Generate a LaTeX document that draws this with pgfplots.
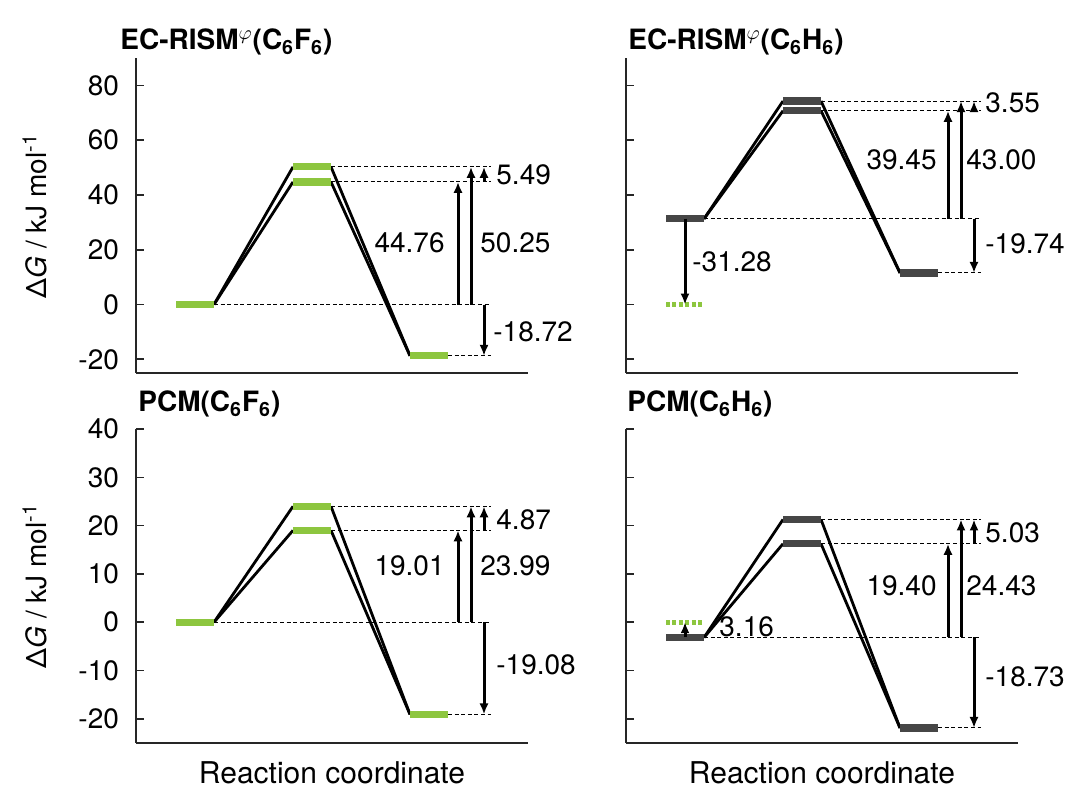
\documentclass[border=0pt]{standalone}
\usepackage{pgfplots}
\pgfplotsset{compat=1.18}
\usepackage{fontspec}
\setmainfont{TeX Gyre Heros}
\usetikzlibrary{arrows.meta}

\definecolor{lvlgreen}{RGB}{141,198,63}
\definecolor{lvlgray}{RGB}{70,70,70}

\pgfplotsset{
  ediag/.style={
    scale only axis, width=196pt, anchor=south west,
    xmin=0, xmax=392, ymin=-25,
    axis lines*=left,
    axis line style={line width=0.8pt, black!85},
    xtick=\empty, tick align=inside, major tick length=4pt,
    tick style={line width=0.8pt, black!85},
    clip=false,
    /pgf/number format/assume math mode=true,
    tick label style={font=\fontsize{14}{16}\selectfont},
    yticklabel style={xshift=-5pt},
    xlabel style={font=\fontsize{15}{17}\selectfont, yshift=-6pt},
  },
  link/.style={black, line width=1.4pt},
  guide/.style={black, line width=0.5pt, dash pattern=on 2pt off 1.3pt},
  gap/.style={black, line width=1.5pt, -{Latex[length=5.5pt,width=4.6pt]}},
  lvg/.style={lvlgreen, line width=3.6pt},
  lvk/.style={lvlgray, line width=3.6pt},
  ref0/.style={lvlgreen, line width=2.5pt, dash pattern=on 2pt off 1.2pt},
}
\tikzset{lab/.style={font=\fontsize{14}{16}\selectfont, inner sep=0pt}}

\begin{document}
\begin{tikzpicture}
\useasboundingbox (0,0) rectangle (535.5pt,396pt);

% EC-RISM C6F6
\begin{axis}[ediag, at={(68pt,209.5pt)}, height=157.5pt, ymax=90, ytick={-20,0,...,80}]
  \addplot[link] coordinates {(78,0) (157,44.76)};
  \addplot[link] coordinates {(78,0) (157,50.25)};
  \addplot[link] coordinates {(195,44.76) (274,-18.72)};
  \addplot[link] coordinates {(195,50.25) (274,-18.72)};
  \addplot[guide] coordinates {(78,0) (355,0)};
  \addplot[guide] coordinates {(195,44.76) (355,44.76)};
  \addplot[guide] coordinates {(195,50.25) (355,50.25)};
  \addplot[guide] coordinates {(312,-18.72) (355,-18.72)};
  \addplot[lvg] coordinates {(40,0) (78,0)};
  \addplot[lvg] coordinates {(157,44.76) (195,44.76)};
  \addplot[lvg] coordinates {(157,50.25) (195,50.25)};
  \addplot[lvg] coordinates {(274,-18.72) (312,-18.72)};
  \addplot[gap] coordinates {(322,0) (322,44.76)};
  \addplot[gap] coordinates {(335,0) (335,50.25)};
  \addplot[gap] coordinates {(348,44.76) (348,50.25)};
  \addplot[gap] coordinates {(348,0) (348,-18.72)};
  \node[lab, anchor=east] at (axis cs:309,22.6) {44.76};
  \node[lab, anchor=west] at (axis cs:344,22.6) {50.25};
  \node[lab, anchor=west] at (axis cs:360,47.3) {5.49};
  \node[lab, anchor=west] at (axis cs:357,-9.9) {-18.72};
\end{axis}

% EC-RISM C6H6
\begin{axis}[ediag, at={(313pt,209.5pt)}, height=157.5pt, ymax=90, ytick={-20,0,...,80}, yticklabels=\empty]
  \addplot[link] coordinates {(78,31.28) (157,70.73)};
  \addplot[link] coordinates {(78,31.28) (157,74.28)};
  \addplot[link] coordinates {(195,70.73) (274,11.54)};
  \addplot[link] coordinates {(195,74.28) (274,11.54)};
  \addplot[guide] coordinates {(78,31.28) (355,31.28)};
  \addplot[guide] coordinates {(195,70.73) (355,70.73)};
  \addplot[guide] coordinates {(195,74.28) (355,74.28)};
  \addplot[guide] coordinates {(312,11.54) (355,11.54)};
  \addplot[ref0] coordinates {(40,0) (78,0)};
  \addplot[lvk] coordinates {(40,31.28) (78,31.28)};
  \addplot[lvk] coordinates {(157,70.73) (195,70.73)};
  \addplot[lvk] coordinates {(157,74.28) (195,74.28)};
  \addplot[lvk] coordinates {(274,11.54) (312,11.54)};
  \addplot[gap] coordinates {(59,31.28) (59,0)};
  \addplot[gap] coordinates {(322,31.28) (322,70.73)};
  \addplot[gap] coordinates {(335,31.28) (335,74.28)};
  \addplot[gap] coordinates {(348,70.73) (348,74.28)};
  \addplot[gap] coordinates {(348,31.28) (348,11.54)};
  \node[lab, anchor=west] at (axis cs:66,15.7) {-31.28};
  \node[lab, anchor=east] at (axis cs:311,53) {39.45};
  \node[lab, anchor=west] at (axis cs:340,53) {43.00};
  \node[lab, anchor=west] at (axis cs:359,73.5) {3.55};
  \node[lab, anchor=west] at (axis cs:359,22.3) {-19.74};
\end{axis}

% PCM C6F6
\begin{axis}[ediag, at={(68pt,24.5pt)}, height=157pt, ymax=40, ytick={-20,-10,...,40},
  xlabel={Reaction coordinate}]
  \addplot[link] coordinates {(78,0) (157,19.01)};
  \addplot[link] coordinates {(78,0) (157,23.99)};
  \addplot[link] coordinates {(195,19.01) (274,-19.08)};
  \addplot[link] coordinates {(195,23.99) (274,-19.08)};
  \addplot[guide] coordinates {(78,0) (355,0)};
  \addplot[guide] coordinates {(195,19.01) (355,19.01)};
  \addplot[guide] coordinates {(195,23.99) (355,23.99)};
  \addplot[guide] coordinates {(312,-19.08) (355,-19.08)};
  \addplot[lvg] coordinates {(40,0) (78,0)};
  \addplot[lvg] coordinates {(157,19.01) (195,19.01)};
  \addplot[lvg] coordinates {(157,23.99) (195,23.99)};
  \addplot[lvg] coordinates {(274,-19.08) (312,-19.08)};
  \addplot[gap] coordinates {(322,0) (322,19.01)};
  \addplot[gap] coordinates {(335,0) (335,23.99)};
  \addplot[gap] coordinates {(348,19.01) (348,23.99)};
  \addplot[gap] coordinates {(348,0) (348,-19.08)};
  \node[lab, anchor=east] at (axis cs:309,11.6) {19.01};
  \node[lab, anchor=west] at (axis cs:344,11.6) {23.99};
  \node[lab, anchor=west] at (axis cs:360,21.2) {4.87};
  \node[lab, anchor=west] at (axis cs:360,-8.9) {-19.08};
\end{axis}

% PCM C6H6
\begin{axis}[ediag, at={(313pt,24.5pt)}, height=157pt, ymax=40, ytick={-20,-10,...,40}, yticklabels=\empty,
  xlabel={Reaction coordinate}]
  \addplot[link] coordinates {(78,-3.16) (157,16.24)};
  \addplot[link] coordinates {(78,-3.16) (157,21.27)};
  \addplot[link] coordinates {(195,16.24) (274,-21.89)};
  \addplot[link] coordinates {(195,21.27) (274,-21.89)};
  \addplot[guide] coordinates {(78,-3.16) (355,-3.16)};
  \addplot[guide] coordinates {(195,16.24) (355,16.24)};
  \addplot[guide] coordinates {(195,21.27) (355,21.27)};
  \addplot[guide] coordinates {(312,-21.89) (355,-21.89)};
  \addplot[ref0] coordinates {(40,0) (78,0)};
  \addplot[lvk] coordinates {(40,-3.16) (78,-3.16)};
  \addplot[lvk] coordinates {(157,16.24) (195,16.24)};
  \addplot[lvk] coordinates {(157,21.27) (195,21.27)};
  \addplot[lvk] coordinates {(274,-21.89) (312,-21.89)};
  \addplot[gap] coordinates {(59,-3.16) (59,0)};
  \addplot[gap] coordinates {(322,-3.16) (322,16.24)};
  \addplot[gap] coordinates {(335,-3.16) (335,21.27)};
  \addplot[gap] coordinates {(348,16.24) (348,21.27)};
  \addplot[gap] coordinates {(348,-3.16) (348,-21.89)};
  \node[lab, anchor=west] at (axis cs:93,-0.9) {3.16};
  \node[lab, anchor=east] at (axis cs:311,7.5) {19.40};
  \node[lab, anchor=west] at (axis cs:340,7.5) {24.43};
  \node[lab, anchor=west] at (axis cs:359,18.6) {5.03};
  \node[lab, anchor=west] at (axis cs:359,-11.2) {-18.73};
\end{axis}

% panel titles and y labels
\begin{scope}[every node/.style={anchor=base west, inner sep=0pt, font=\bfseries\fontsize{14}{16}\selectfont}]
  \node at (60pt,371pt) {EC-RISM\textsuperscript{$\varphi$}(C\textsubscript{6}F\textsubscript{6})};
  \node at (314pt,371pt) {EC-RISM\textsuperscript{$\varphi$}(C\textsubscript{6}H\textsubscript{6})};
  \node at (69pt,190pt) {PCM(C\textsubscript{6}F\textsubscript{6})};
  \node at (313.5pt,190pt) {PCM(C\textsubscript{6}H\textsubscript{6})};
\end{scope}
\node[rotate=90, font=\fontsize{14}{16}\selectfont] at (17.5pt,288pt) {Δ\textit{G} / kJ mol\textsuperscript{-1}};
\node[rotate=90, font=\fontsize{14}{16}\selectfont] at (17.5pt,103pt) {Δ\textit{G} / kJ mol\textsuperscript{-1}};
\end{tikzpicture}
\end{document}
